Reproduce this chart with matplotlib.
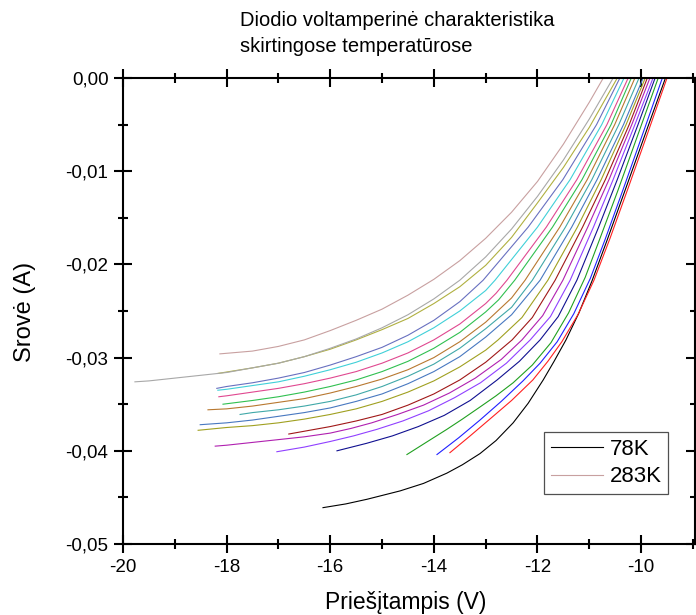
import matplotlib
matplotlib.use('Agg')
import matplotlib.pyplot as plt

plt.rcParams['font.family'] = ['Liberation Sans', 'DejaVu Sans']

# reverse bias (V) and current (A), 78K first, 283K last
v_black = [-16.14, -15.70, -15.29, -14.65, -14.20, -13.75, -13.45, -13.11, -12.80, -12.47, -12.18,
           -11.89, -11.68, -11.45, -11.20, -10.95, -10.65, -10.30, -9.90, -9.53]
i_black = [-0.0461, -0.0457, -0.0452, -0.0443, -0.0435, -0.0424, -0.0415, -0.0403, -0.0389, -0.0370, -0.0349,
           -0.0324, -0.0304, -0.0281, -0.0252, -0.0218, -0.0173, -0.0119, -0.0057, 0.0]
v_red = [-13.69, -13.30, -12.92, -12.50, -12.09, -11.80, -11.53, -11.22, -10.91, -10.60, -10.25, -9.86, -9.50]
i_red = [-0.0402, -0.0384, -0.0366, -0.0346, -0.0324, -0.0304, -0.0283, -0.0254, -0.0217, -0.0172, -0.0118, -0.0057, 0.0]
v_blue = [-13.94, -13.52, -13.11, -12.70, -12.28, -11.95, -11.62, -11.30, -10.98, -10.70, -10.35, -9.95, -9.59]
i_blue = [-0.0404, -0.0386, -0.0367, -0.0347, -0.0325, -0.0306, -0.0283, -0.0253, -0.0215, -0.0174, -0.0120, -0.0057, 0.0]
v_green = [-14.52, -14.15, -13.75, -13.45, -13.11, -12.80, -12.47, -12.10, -11.74, -11.40, -11.08, -10.80, -10.45, -10.05, -9.67]
i_green = [-0.0404, -0.0391, -0.0377, -0.0366, -0.0353, -0.0341, -0.0327, -0.0308, -0.0284, -0.0252, -0.0214, -0.0173, -0.0121, -0.0059, 0.0]
v_navy = [-15.87, -15.30, -14.80, -14.30, -13.80, -13.30, -12.78, -12.35, -11.95, -11.60, -11.24, -10.82, -10.46, -10.06, -9.73]
i_navy = [-0.0400, -0.0392, -0.0384, -0.0374, -0.0362, -0.0346, -0.0324, -0.0304, -0.0281, -0.0256, -0.0217, -0.0160, -0.0109, -0.0050, 0.0]
v_violet = [-17.03, -16.50, -16.00, -15.55, -15.10, -14.60, -14.10, -13.60, -13.10, -12.60, -12.14, -11.75, -11.37, -10.92, -10.54, -10.12, -9.77]
i_violet = [-0.0401, -0.0396, -0.0390, -0.0384, -0.0377, -0.0368, -0.0357, -0.0343, -0.0327, -0.0306, -0.0281, -0.0256, -0.0217, -0.0160, -0.0109, -0.0050, 0.0]
v_magenta = [-18.22, -18.00, -17.50, -17.00, -16.50, -16.00, -15.60, -15.20, -14.70, -14.20, -13.70, -13.20, -12.70, -12.30,
             -11.90, -11.51, -11.03, -10.62, -10.18, -9.83]
i_magenta = [-0.0395, -0.0394, -0.0391, -0.0388, -0.0385, -0.0381, -0.0376, -0.0370, -0.0361, -0.0351, -0.0338, -0.0322, -0.0302, -0.0281,
             -0.0255, -0.0217, -0.0160, -0.0109, -0.0050, 0.0]
v_wine = [-16.80, -16.50, -16.00, -15.50, -15.00, -14.50, -14.00, -13.50, -13.00, -12.49, -12.10, -11.66, -11.13, -10.69, -10.23, -9.88]
i_wine = [-0.0382, -0.0379, -0.0374, -0.0368, -0.0361, -0.0351, -0.0339, -0.0324, -0.0305, -0.0281, -0.0257, -0.0217, -0.0160, -0.0109, -0.0050, 0.0]
v_olive = [-18.55, -18.00, -17.50, -17.00, -16.50, -16.00, -15.50, -15.00, -14.50, -14.00, -13.50, -13.00, -12.76, -12.30,
           -11.80, -11.23, -10.77, -10.29, -9.92]
i_olive = [-0.0378, -0.0375, -0.0373, -0.0370, -0.0366, -0.0361, -0.0355, -0.0347, -0.0337, -0.0325, -0.0310, -0.0292, -0.0281, -0.0257,
           -0.0217, -0.0160, -0.0109, -0.0050, 0.0]
v_steel = [-18.51, -18.00, -17.50, -17.00, -16.50, -16.00, -15.50, -15.00, -14.50, -14.00, -13.50, -13.00, -12.50, -11.95,
           -11.34, -10.85, -10.34, -9.96]
i_steel = [-0.0372, -0.0370, -0.0367, -0.0363, -0.0359, -0.0354, -0.0347, -0.0339, -0.0328, -0.0315, -0.0299, -0.0278, -0.0254, -0.0217,
           -0.0160, -0.0109, -0.0050, 0.0]
v_teal = [-17.74, -17.50, -17.00, -16.50, -16.00, -15.50, -15.00, -14.50, -14.00, -13.50, -13.00, -12.50, -12.10, -11.46, -10.95, -10.43, -10.04]
i_teal = [-0.0361, -0.0359, -0.0356, -0.0352, -0.0347, -0.0340, -0.0331, -0.0320, -0.0307, -0.0290, -0.0269, -0.0246, -0.0217, -0.0160, -0.0109, -0.0050, 0.0]
v_brown = [-18.36, -18.00, -17.50, -17.00, -16.50, -16.00, -15.50, -15.00, -14.50, -14.00, -13.50, -13.00, -12.50, -12.24,
           -11.57, -11.04, -10.51, -10.12]
i_brown = [-0.0356, -0.0355, -0.0352, -0.0348, -0.0344, -0.0338, -0.0331, -0.0323, -0.0313, -0.0300, -0.0283, -0.0262, -0.0236, -0.0217,
           -0.0160, -0.0109, -0.0050, 0.0]
v_lime = [-18.07, -17.50, -17.00, -16.50, -16.00, -15.50, -15.00, -14.50, -14.00, -13.50, -13.00, -12.75, -12.44, -11.71, -11.14, -10.58, -10.19]
i_lime = [-0.0350, -0.0346, -0.0342, -0.0337, -0.0331, -0.0324, -0.0315, -0.0304, -0.0290, -0.0273, -0.0251, -0.0238, -0.0217, -0.0160, -0.0109, -0.0050, 0.0]
v_pink = [-18.15, -18.00, -17.50, -17.00, -16.50, -16.00, -15.50, -15.00, -14.50, -14.00, -13.50, -13.00, -12.80, -12.59,
          -11.83, -11.24, -10.66, -10.25]
i_pink = [-0.0342, -0.0341, -0.0337, -0.0333, -0.0328, -0.0322, -0.0315, -0.0306, -0.0295, -0.0281, -0.0264, -0.0242, -0.0231, -0.0217,
          -0.0160, -0.0109, -0.0050, 0.0]
v_cyan = [-18.17, -18.00, -17.50, -17.00, -16.50, -16.00, -15.50, -15.00, -14.50, -14.00, -13.50, -13.00, -12.82, -12.00, -11.37, -10.76, -10.33]
i_cyan = [-0.0335, -0.0334, -0.0330, -0.0326, -0.0320, -0.0313, -0.0305, -0.0295, -0.0283, -0.0268, -0.0250, -0.0228, -0.0217, -0.0160, -0.0109, -0.0050, 0.0]
v_slate = [-18.19, -18.00, -17.50, -17.00, -16.50, -16.00, -15.50, -15.00, -14.50, -14.00, -13.50, -13.05, -12.18, -11.51, -10.86, -10.41]
i_slate = [-0.0333, -0.0331, -0.0327, -0.0322, -0.0316, -0.0308, -0.0299, -0.0289, -0.0276, -0.0260, -0.0240, -0.0217, -0.0160, -0.0109, -0.0050, 0.0]
v_yellow = [-18.17, -17.50, -17.00, -16.50, -16.00, -15.50, -15.00, -14.50, -14.00, -13.50, -13.00, -12.50, -12.00, -11.50, -11.00, -10.46]
i_yellow = [-0.0317, -0.0311, -0.0306, -0.0299, -0.0291, -0.0281, -0.0270, -0.0258, -0.0242, -0.0224, -0.0201, -0.0171, -0.0134, -0.0096, -0.0053, 0.0]
v_gray = [-19.77, -19.50, -19.00, -18.50, -18.00, -17.50, -17.00, -16.50, -16.00, -15.50, -15.00, -14.50, -14.00, -13.50,
          -13.00, -12.50, -12.00, -11.50, -11.00, -10.54]
i_gray = [-0.0326, -0.0325, -0.0322, -0.0319, -0.0316, -0.0311, -0.0306, -0.0299, -0.0290, -0.0280, -0.0268, -0.0254, -0.0237, -0.0217,
          -0.0192, -0.0162, -0.0127, -0.0088, -0.0044, 0.0]
v_rosy = [-18.13, -17.50, -17.00, -16.50, -16.00, -15.50, -15.00, -14.50, -14.00, -13.50, -13.00, -12.50, -12.00, -11.50, -11.00, -10.73]
i_rosy = [-0.0296, -0.0293, -0.0288, -0.0281, -0.0271, -0.0260, -0.0248, -0.0233, -0.0216, -0.0196, -0.0172, -0.0144, -0.0111, -0.0071, -0.0026, 0.0]

curves = [
    (v_black, i_black, '#000000', '78K'),
    (v_red, i_red, '#ff2020', None),
    (v_blue, i_blue, '#2020ff', None),
    (v_green, i_green, '#20a020', None),
    (v_navy, i_navy, '#101090', None),
    (v_violet, i_violet, '#9040ff', None),
    (v_magenta, i_magenta, '#b020b0', None),
    (v_wine, i_wine, '#a01818', None),
    (v_olive, i_olive, '#a0a020', None),
    (v_steel, i_steel, '#4878c0', None),
    (v_teal, i_teal, '#40a8a8', None),
    (v_brown, i_brown, '#b87830', None),
    (v_lime, i_lime, '#30c050', None),
    (v_pink, i_pink, '#e04890', None),
    (v_cyan, i_cyan, '#40d0d8', None),
    (v_slate, i_slate, '#6870c0', None),
    (v_yellow, i_yellow, '#b0b040', None),
    (v_gray, i_gray, '#a8a8a8', None),
    (v_rosy, i_rosy, '#c8a0a0', '283K'),
]

fig = plt.figure(figsize=(6.96, 6.15), dpi=100)
ax = fig.add_axes([123/696, 71/615, 572/696, 466/615])

for v, i, c, lab in curves:
    ax.plot(v, i, color=c, linewidth=0.8, label=lab)

ax.set_xlim(-20, -8.96)
ax.set_ylim(-0.05, 0.0)
ax.set_xticks([-20, -18, -16, -14, -12, -10])
ax.set_xticks([-19, -17, -15, -13, -11, -9], minor=True)
ax.set_yticks([-0.05, -0.04, -0.03, -0.02, -0.01, 0.0])
ax.set_yticks([-0.045, -0.035, -0.025, -0.015, -0.005], minor=True)
ax.set_yticklabels(['-0,05', '-0,04', '-0,03', '-0,02', '-0,01', '0,00'])
ax.set_xticklabels(['-20', '-18', '-16', '-14', '-12', '-10'])

for s in ax.spines.values():
    s.set_linewidth(1.5)
ax.tick_params(which='both', direction='inout', top=True, right=True, width=1.5, labelsize=13.5)
ax.tick_params(which='major', length=13, pad=4)
ax.tick_params(which='minor', length=7)

h, l = ax.get_legend_handles_labels()
leg = ax.legend(h, l, loc='upper left', bbox_to_anchor=(0.736, 0.2403), borderaxespad=0, fontsize=16,
                frameon=True, fancybox=False, framealpha=1, edgecolor='#505050',
                handlelength=2.35, handletextpad=0.3, labelspacing=0.3, borderpad=0.3)
leg.get_frame().set_linewidth(0.9)

fig.text(240/696, 1 - 20/615, 'Diodio voltamperinė charakteristika', fontsize=14.5, ha='left', va='center')
fig.text(240/696, 1 - 47/615, 'skirtingose temperatūrose', fontsize=14.5, ha='left', va='center')
fig.text(406/696, 1 - 603/615, 'Priešįtampis (V)', fontsize=16.5, ha='center', va='center')
fig.text(25/696, 1 - 312/615, 'Srovė (A)', fontsize=17, ha='center', va='center', rotation=90)

fig.savefig('out.png', dpi=100)
